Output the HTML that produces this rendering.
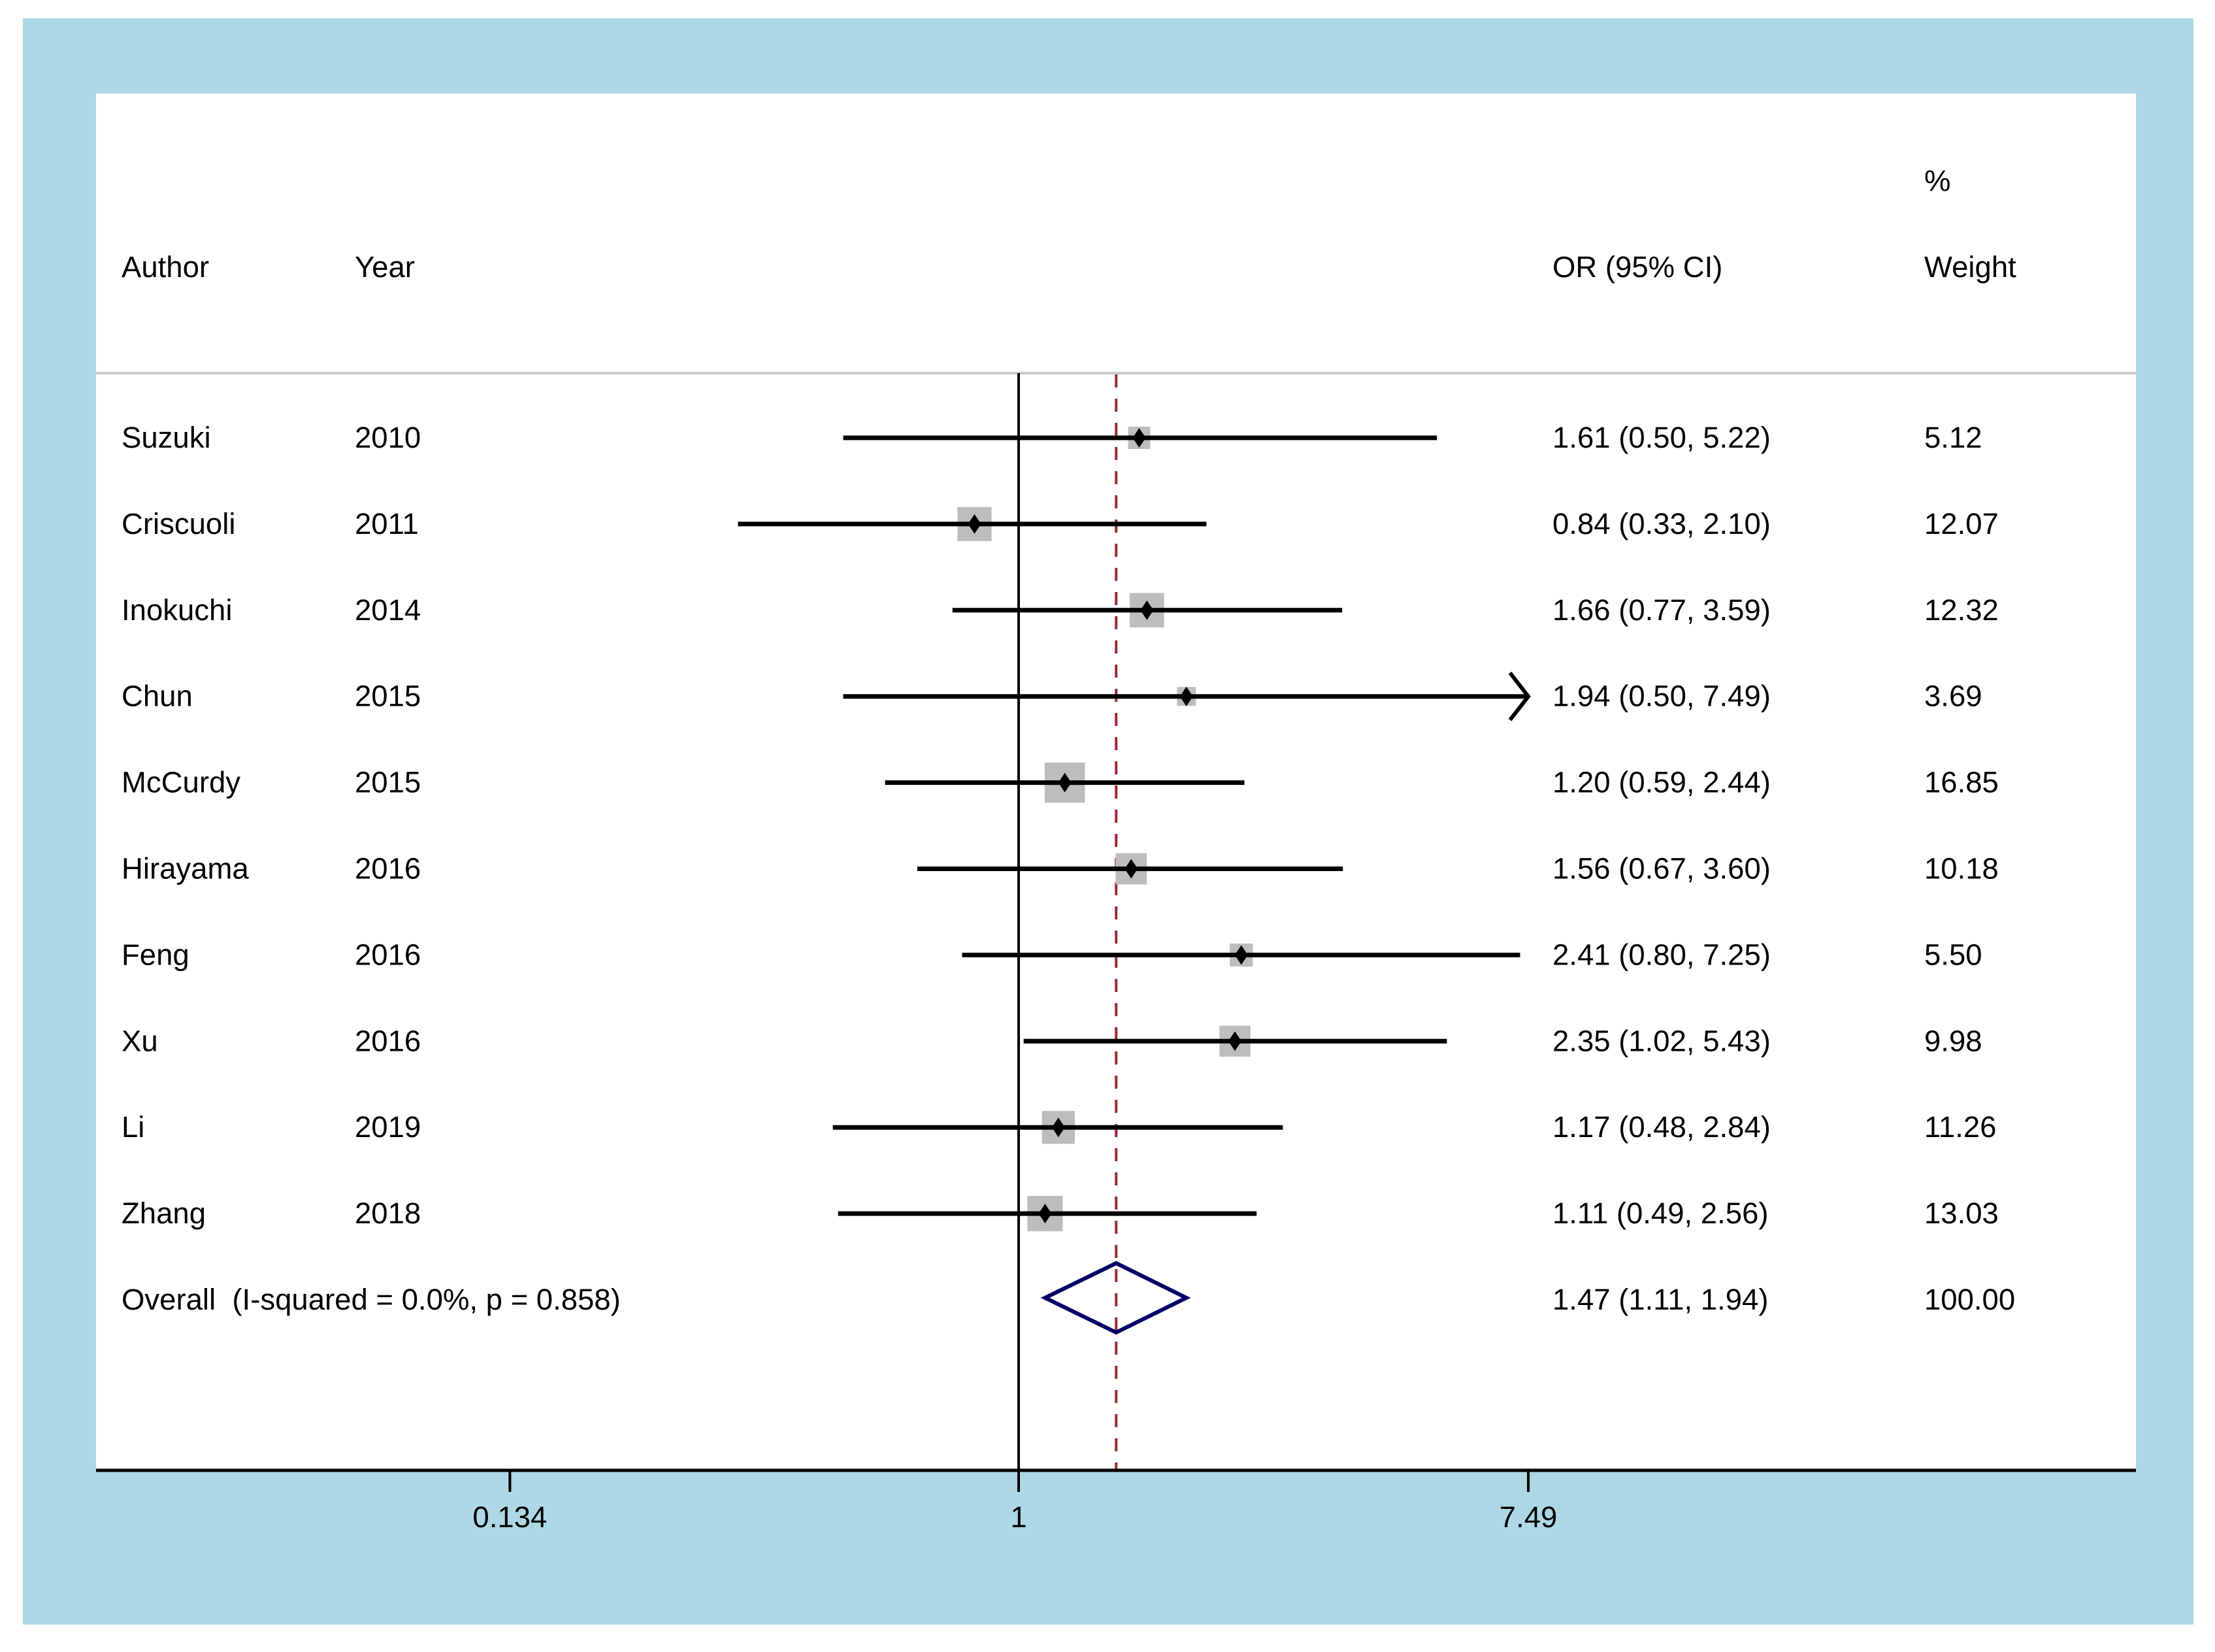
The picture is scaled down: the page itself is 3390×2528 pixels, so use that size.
<!DOCTYPE html>
<html><head><meta charset="utf-8"><style>
html,body{margin:0;padding:0;background:#fff;}
svg{display:block;}
text{font-family:"Liberation Sans",sans-serif;font-size:45.5px;fill:#000;}
</style></head><body>
<svg id="chart" width="3390" height="2528" viewBox="0 0 3390 2528" xmlns="http://www.w3.org/2000/svg">
<rect x="35" y="28" width="3322" height="2458" fill="#add8e6"/>
<rect x="147" y="143" width="3122" height="2107" fill="#fff"/>
<line x1="147" y1="571" x2="3269" y2="571" stroke="#c8c8c8" stroke-width="4"/>
<text x="2945" y="292">%</text>
<text x="186" y="424">Author</text>
<text x="543" y="424">Year</text>
<text x="2376" y="424">OR (95% CI)</text>
<text x="2945" y="424">Weight</text>
<g id="marks"></g>
</svg>
<script>
const authors=["Suzuki","Criscuoli","Inokuchi","Chun","McCurdy","Hirayama","Feng","Xu","Li","Zhang"];
const years=["2010","2011","2014","2015","2015","2016","2016","2016","2019","2018"];
const orVals=[1.61,0.84,1.66,1.94,1.20,1.56,2.41,2.35,1.17,1.11];
const lowVals=[0.50,0.33,0.77,0.50,0.59,0.67,0.80,1.02,0.48,0.49];
const highVals=[5.22,2.10,3.59,7.49,2.44,3.60,7.25,5.43,2.84,2.56];
const weights=[5.12,12.07,12.32,3.69,16.85,10.18,5.50,9.98,11.26,13.03];
const overall=[1.47,1.11,1.94];
const overallLabel="Overall\u00a0\u00a0(I-squared = 0.0%, p = 0.858)";
const overallWeight="100.00";
const ticks=[0.134,1,7.49];
const tickLabels=["0.134","1","7.49"];

const NS="http://www.w3.org/2000/svg";
const g=document.getElementById('marks');
const x0=1559, k=387.4, maxX=7.49;
function xs(v){return x0+k*Math.log(v);}
function ys(i){return 670+i*131.9;}
function el(t,a,p){const e=document.createElementNS(NS,t);for(const n in a)e.setAttribute(n,a[n]);(p||g).appendChild(e);return e;}
function fmt(v){return v.toFixed(2);}

let e;
e=el('line',{x1:x0,y1:571,x2:x0,y2:2250,stroke:'#000','stroke-width':4});


const ox=xs(overall[0]);
e=el('line',{x1:ox,y1:573,x2:ox,y2:2248,stroke:'#9b2a35','stroke-width':4,'stroke-dasharray':'20 17'});



for(let i=0;i<authors.length;i++){
  const y=ys(i);
  e=el('text',{x:186,y:y+15});e.textContent=authors[i];
  
  
  e=el('text',{x:543,y:y+15});e.textContent=years[i];
  
  
  e=el('text',{x:2376,y:y+15});e.textContent=fmt(orVals[i])+" ("+fmt(lowVals[i])+", "+fmt(highVals[i])+")";
  
  
  e=el('text',{x:2945,y:y+15});e.textContent=fmt(weights[i]);
  
  
  const s=15*Math.sqrt(weights[i]);
  const cx=xs(orVals[i]);
  e=el('rect',{x:cx-s/2,y:y-s/2,width:s,height:s,fill:'#bdbdbd'});
  
  
  const hi=Math.min(highVals[i],maxX);
  e=el('line',{x1:xs(lowVals[i]),y1:y,x2:xs(hi),y2:y,stroke:'#000','stroke-width':7});
  
  
  if(highVals[i]>=maxX){
    const ax=xs(maxX);
    e=el('polyline',{points:(ax-28)+","+(y-36)+" "+ax+","+y+" "+(ax-28)+","+(y+36),fill:'none',stroke:'#000','stroke-width':6});
    
    
  }
  e=el('polygon',{points:(cx-10)+","+y+" "+cx+","+(y-15)+" "+(cx+10)+","+y+" "+cx+","+(y+15),fill:'#000'});
  
  
}
const oy=ys(authors.length)-3;
e=el('polygon',{points:xs(overall[1])+","+oy+" "+ox+","+(oy-53)+" "+xs(overall[2])+","+oy+" "+ox+","+(oy+53),fill:'none',stroke:'#000066','stroke-width':6});


e=el('text',{x:186,y:oy+18});e.textContent=overallLabel;


e=el('text',{x:2376,y:oy+18});e.textContent=fmt(overall[0])+" ("+fmt(overall[1])+", "+fmt(overall[2])+")";


e=el('text',{x:2945,y:oy+18});e.textContent=overallWeight;



e=el('line',{x1:147,y1:2250,x2:3269,y2:2250,stroke:'#000','stroke-width':5});


for(let i=0;i<ticks.length;i++){
  const tx=xs(ticks[i]);
  e=el('line',{x1:tx,y1:2250,x2:tx,y2:2283,stroke:'#000','stroke-width':4});
  
  
  e=el('text',{x:tx,y:2337,'text-anchor':'middle'});e.textContent=tickLabels[i];
  
  
}
</script>
</body></html>
